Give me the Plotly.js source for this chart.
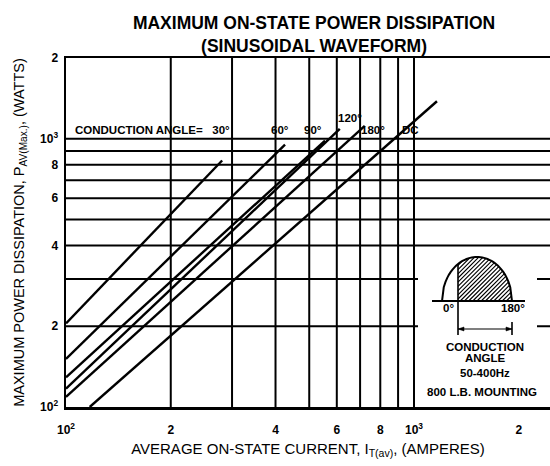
<!DOCTYPE html>
<html><head><meta charset="utf-8">
<script src="https://cdn.plot.ly/plotly-3.0.1.min.js"></script>
<style>html,body{margin:0;padding:0;background:#fff}#chart{width:550px;height:466px}</style>
</head><body><div id="chart"></div>
<script>
// ---- data ----
const seriesNames = ['30°', '60°', '90°', '120°', '180°', 'DC'];
const currentStart = [100, 100, 100, 100, 100, 117];     // A
const powerStart   = [205, 151, 129, 117, 109, 100];     // W
const currentEnd   = [281, 426, 555, 612, 722, 1164];    // A
const powerEnd     = [830, 950, 984, 1088, 1117, 1380];  // W
const tickValues = [100, 200, 400, 600, 800, 1000, 2000];
const tickLabels = ['10<sup>2</sup>', '2', '4', '6', '8', '10<sup>3</sup>', '2'];
const gridCurrent = [200, 300, 400, 500, 600, 700, 800, 900, 1000];
const gridPower   = [200, 300, 400, 500, 600, 700, 800, 900, 1000];
const curveLabels = ['CONDUCTION ANGLE=\u00a0\u00a0 30°', '60°', '90°', '120°', '180°', 'DC'];

// ---- label placement (style, not data) ----
const labelX = [105, 412, 513, 655, 760, 975];
const labelShift = [0, 0, 0, 12, 0, 0];
const labelAnchor = ['left', 'center', 'center', 'center', 'center', 'center'];

const W = 550, H = 466;
const M = {l: 66, r: 0, t: 58, b: 59};
const pw = W - M.l - M.r, ph = H - M.t - M.b;
const px = x => (x - M.l) / pw;
const py = y => (M.t + ph - y) / ph;
const FONT = 'Liberation Sans, Arial, sans-serif';

const traces = seriesNames.map((n, i) => ({
  type: 'scatter', mode: 'lines', name: n,
  x: [currentStart[i], currentEnd[i]],
  y: [powerStart[i], powerEnd[i]],
  line: {color: '#000', width: 2.4},
  hoverinfo: 'skip', showlegend: false
}));

const shapes = [];
gridCurrent.forEach(v => shapes.push({type: 'line', xref: 'x', yref: 'paper', x0: v, x1: v, y0: 0, y1: 1,
  line: {color: '#000', width: 2}, layer: 'below'}));
gridPower.forEach(v => shapes.push({type: 'line', xref: 'paper', yref: 'y', x0: 0, x1: 1, y0: v, y1: v,
  line: {color: '#000', width: 2}, layer: 'below'}));

// ---- inset sketch (decoration, in pixel geometry mapped to paper) ----
const P = (x, y) => px(x).toFixed(5) + ',' + py(y).toFixed(5);
const hCx = 477, hA = 35, hBase = 301, hH = 44, hatchStart = 458, hatchEnd = 512;
const humpTop = x => hBase - hH * Math.sqrt(Math.max(0, 1 - Math.pow((x - hCx) / hA, 2)));
shapes.push({type: 'rect', xref: 'paper', yref: 'paper', x0: px(418), x1: px(537), y0: py(398), y1: py(248),
  fillcolor: '#fff', line: {width: 0}, layer: 'above'});
let outline = 'M' + P(hCx - hA, hBase);
for (let k = 1; k <= 40; k++) { const x = hCx - hA + 2 * hA * k / 40; outline += ' L' + P(x, humpTop(x)); }
shapes.push({type: 'path', xref: 'paper', yref: 'paper', path: outline, line: {color: '#000', width: 2}, layer: 'above'});
let hatch = '';
for (let c = hatchStart - hH; c < hatchEnd; c += 4.2) {
  const xs = Math.max(c, hatchStart), ys = hBase - (xs - c);
  if (ys < humpTop(xs)) continue;
  let xe = xs;
  while (xe + 0.2 <= hatchEnd && hBase - (xe + 0.2 - c) >= humpTop(xe + 0.2)) xe += 0.2;
  if (xe - xs < 0.5) continue;
  hatch += ' M' + P(xs, ys) + ' L' + P(xe, hBase - (xe - c));
}
shapes.push({type: 'path', xref: 'paper', yref: 'paper', path: hatch, line: {color: '#000', width: 1.1}, layer: 'above'});
shapes.push({type: 'path', xref: 'paper', yref: 'paper', path: 'M' + P(432, hBase) + ' L' + P(525, hBase), line: {color: '#000', width: 2}, layer: 'above'});
shapes.push({type: 'path', xref: 'paper', yref: 'paper', path: 'M' + P(hatchStart, humpTop(hatchStart)) + ' L' + P(hatchStart, 335), line: {color: '#000', width: 1.6}, layer: 'above'});
shapes.push({type: 'path', xref: 'paper', yref: 'paper', path: 'M' + P(hatchEnd, 322) + ' L' + P(hatchEnd, 335), line: {color: '#000', width: 1.6}, layer: 'above'});
shapes.push({type: 'path', xref: 'paper', yref: 'paper', path: 'M' + P(hatchStart, 329) + ' L' + P(hatchEnd, 329), line: {color: '#000', width: 1.2}, layer: 'above'});
shapes.push({type: 'path', xref: 'paper', yref: 'paper', path: 'M' + P(hatchStart, 329) + ' L' + P(hatchStart + 6, 327) + ' L' + P(hatchStart + 6, 331) + ' Z', fillcolor: '#000', line: {color: '#000', width: 0.5}, layer: 'above'});
shapes.push({type: 'path', xref: 'paper', yref: 'paper', path: 'M' + P(hatchEnd, 329) + ' L' + P(hatchEnd - 6, 327) + ' L' + P(hatchEnd - 6, 331) + ' Z', fillcolor: '#000', line: {color: '#000', width: 0.5}, layer: 'above'});

const annotations = curveLabels.map((t, i) => ({
  text: t, xref: 'x', yref: 'y', x: Math.log10(labelX[i]), y: 3, yanchor: 'bottom', xanchor: labelAnchor[i],
  yshift: labelShift[i] + 1, showarrow: false, font: {family: FONT, size: 11.5, color: '#000', weight: 700}
}));
const insetText = [
  ['0°', 448, 308], ['180°', 513, 308], ['CONDUCTION', 485, 347], ['ANGLE', 485, 358],
  ['50-400Hz', 485, 373], ['800 L.B. MOUNTING', 482, 392]
];
insetText.forEach(([t, x, y]) => annotations.push({text: t, xref: 'paper', yref: 'paper', x: px(x), y: py(y),
  xanchor: 'center', yanchor: 'middle', showarrow: false, font: {family: FONT, size: 11.5, color: '#000', weight: 700}}));

const axisCommon = {
  type: 'log', showgrid: false, zeroline: false, showline: true, mirror: true,
  linecolor: '#000', linewidth: 2.5, ticks: '', tickmode: 'array',
  tickvals: tickValues, ticktext: tickLabels,
  tickfont: {family: FONT, size: 12, color: '#000', weight: 700}
};

const layout = {
  width: W, height: H, margin: M, paper_bgcolor: '#fff', plot_bgcolor: '#fff', showlegend: false,
  title: {text: 'MAXIMUM ON-STATE POWER DISSIPATION<br>(SINUSOIDAL WAVEFORM)', xref: 'container', x: 0.571,
    yref: 'container', y: 1 - 29 / H, yanchor: 'top',
    font: {family: FONT, size: 17.5, color: '#000', weight: 700}},
  xaxis: Object.assign({}, axisCommon, {range: [2, 2 + pw / 348], ticklabelstandoff: 10,
    title: {text: 'AVERAGE ON-STATE CURRENT, I<sub>T(av)</sub>, (AMPERES)', standoff: 8,
      font: {family: FONT, size: 15, color: '#000'}}}),
  yaxis: Object.assign({}, axisCommon, {range: [2, Math.log10(2000)], ticklabelstandoff: 3,
    title: {text: 'MAXIMUM POWER DISSIPATION, P<sub>AV(Max.)</sub>, (WATTS)', standoff: 12,
      font: {family: FONT, size: 14.5, color: '#000'}}}),
  shapes: shapes, annotations: annotations
};

Plotly.newPlot('chart', traces, layout, {displayModeBar: false, staticPlot: true});
</script></body></html>
